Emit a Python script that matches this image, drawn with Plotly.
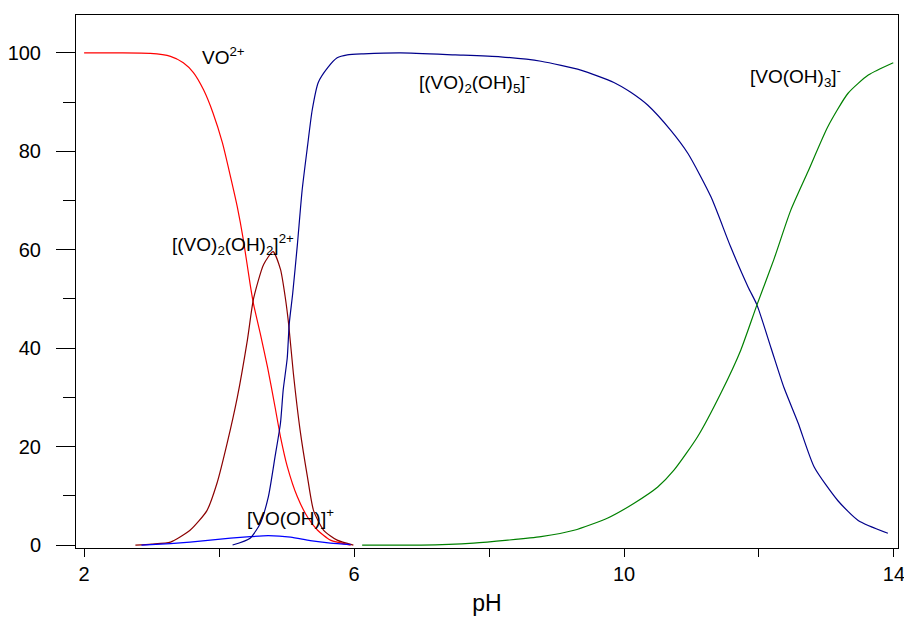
import plotly.graph_objects as go

# ---- data ----
ph_vo = [2.0, 2.5, 2.98, 3.28, 3.47, 3.62, 3.77, 3.91, 4.05, 4.17, 4.27, 4.36, 4.46, 4.51,
         4.61, 4.72, 4.83, 4.91, 5.01, 5.16, 5.31, 5.46, 5.65, 5.95]
pct_vo = [100, 100, 99.9, 99.3, 98, 96, 92.5, 87.8, 81.7, 74.8, 68.7, 62, 53, 49,
          43, 36, 28, 22, 16, 9.8, 5.7, 3, 1, 0]

ph_dimer2 = [2.76, 3.0, 3.28, 3.57, 3.82, 3.97, 4.12, 4.27, 4.42, 4.51, 4.66, 4.80, 4.91,
             4.98, 5.03, 5.10, 5.20, 5.31, 5.40, 5.55, 5.75, 5.99]
pct_dimer2 = [0, 0.2, 0.6, 3, 7, 12.6, 20.7, 30, 41.7, 50, 57, 59.6, 56,
              50.4, 45, 35, 23.4, 13.8, 7, 3, 1, 0]

ph_vooh = [2.85, 3.28, 3.57, 3.87, 4.17, 4.46, 4.73, 5.06, 5.35, 5.65, 5.95]
pct_vooh = [0, 0.3, 0.6, 1.0, 1.4, 1.7, 1.9, 1.6, 0.9, 0.4, 0.1]

ph_dimer5 = [4.20, 4.46, 4.61, 4.73, 4.83, 4.91, 4.95, 5.01, 5.04, 5.09, 5.16, 5.23, 5.31,
             5.38, 5.47, 5.61, 5.75, 5.90, 6.14, 6.69, 7.5, 8.17, 8.77, 9.36, 9.85,
             10.10, 10.35, 10.69, 10.95, 11.29, 11.58, 11.84, 11.97, 12.18, 12.37,
             12.58, 12.82, 13.17, 13.47, 13.91]
pct_dimer5 = [0, 1.4, 4.4, 9.8, 18, 24.8, 31.5, 38, 45, 51, 61, 72, 81,
              88.4, 94, 97, 99, 99.6, 99.8, 100, 99.6, 99.2, 98.3, 96.5, 94,
              92, 89.4, 84.3, 79.5, 70.7, 60.6, 52.4, 48.8, 40, 32,
              24.8, 15.8, 9, 5, 2.4]

ph_vooh3 = [6.12, 6.99, 7.77, 8.28, 8.77, 9.26, 9.76, 10.15, 10.50, 10.74, 11.09, 11.44,
            11.73, 11.97, 12.22, 12.47, 12.73, 13.02, 13.32, 13.62, 13.99]
pct_vooh3 = [0, 0, 0.4, 1, 1.7, 3, 5.5, 8.5, 11.8, 15.2, 22, 31,
             39.6, 48.8, 58, 68, 76, 85, 91.8, 95.5, 98]

x_ticks = [2, 6, 10, 14]
y_ticks = [0, 20, 40, 60, 80, 100]

labels = ["VO<sup>2+</sup>",
          "[(VO)<sub>2</sub>(OH)<sub>2</sub>]<sup>2+</sup>",
          "[VO(OH)]<sup>+</sup>",
          "[(VO)<sub>2</sub>(OH)<sub>5</sub>]<sup>-</sup>",
          "[VO(OH)<sub>3</sub>]<sup>-</sup>"]
label_x = [3.72, 3.27, 4.39, 6.93, 11.84]
label_y = [99.4, 61, 5.7, 94.0, 95.3]

FONT = "Liberation Sans, Arial, sans-serif"

fig = go.Figure()
series = [
    (ph_vo, pct_vo, "#ff0000"),
    (ph_dimer2, pct_dimer2, "#8b0000"),
    (ph_vooh, pct_vooh, "#0000ff"),
    (ph_dimer5, pct_dimer5, "#00008b"),
    (ph_vooh3, pct_vooh3, "#008000"),
]
for xs, ys, c in series:
    fig.add_trace(go.Scatter(x=xs, y=ys, mode="lines",
                             line=dict(color=c, width=1.2, shape="spline", smoothing=0.6),
                             showlegend=False, hoverinfo="skip"))

for t, lx, ly in zip(labels, label_x, label_y):
    fig.add_annotation(x=lx, y=ly, xref="x", yref="y", text=t, showarrow=False,
                       xanchor="left", yanchor="middle",
                       font=dict(family=FONT, size=19, color="#000000"))

fig.update_layout(
    width=904, height=619,
    margin=dict(l=76, r=6, t=15, b=71),
    paper_bgcolor="white", plot_bgcolor="white",
    font=dict(family=FONT, size=20, color="#000000"),
)
fig.update_xaxes(
    range=[1.88, 14.06], tickmode="array", tickvals=x_ticks,
    ticktext=[str(v) for v in x_ticks],
    ticks="outside", ticklen=8, tickwidth=1, tickcolor="black",
    minor=dict(tickmode="array", tickvals=[4, 8, 12], ticks="outside",
               ticklen=8, tickwidth=1, tickcolor="black"),
    showline=True, linecolor="black", linewidth=1, mirror=True,
    showgrid=False, zeroline=False,
    ticklabeloverflow="allow",
    title=dict(text="pH", font=dict(family=FONT, size=23), standoff=10),
    tickfont=dict(family=FONT, size=20),
    automargin=False,
)
fig.update_yaxes(
    range=[-0.6, 107.7], tickmode="array", tickvals=y_ticks,
    ticktext=[str(v) for v in y_ticks],
    ticks="outside", ticklen=19, tickwidth=1, tickcolor="black",
    minor=dict(tickmode="array", tickvals=[10, 30, 50, 70, 90], ticks="outside",
               ticklen=12, tickwidth=1, tickcolor="black"),
    showline=True, linecolor="black", linewidth=1, mirror=True,
    showgrid=False, zeroline=False,
    ticklabelstandoff=11,
    tickfont=dict(family=FONT, size=20),
    automargin=False,
)

fig.write_html("out.html")
